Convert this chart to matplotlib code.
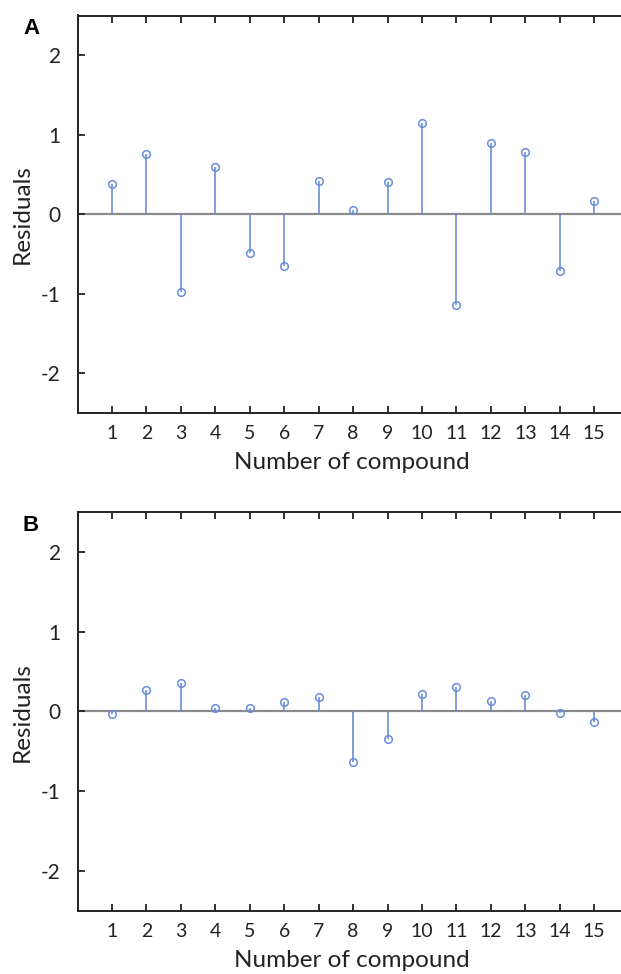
import matplotlib
matplotlib.use("Agg")
import matplotlib.pyplot as plt
import numpy as np

plt.rcParams['font.family'] = ['Lato', 'DejaVu Sans']

compounds = list(range(1, 16))
residuals_a = [0.38, 0.76, -0.98, 0.59, -0.49, -0.65, 0.42, 0.05, 0.40,
               1.15, -1.15, 0.89, 0.78, -0.71, 0.16]
residuals_b = [-0.03, 0.27, 0.36, 0.04, 0.05, 0.12, 0.18, -0.63, -0.35,
               0.22, 0.31, 0.13, 0.21, -0.02, -0.13]
y_ticks = [-2, -1, 0, 1, 2]
panel_labels = ['A', 'B']

W, H = 621, 974
fig = plt.figure(figsize=(W / 100, H / 100), dpi=100)

stem_color = '#6a8ddc'

def px_axes(left, top, width, height):
    return fig.add_axes([left / W, 1 - (top + height) / H, width / W, height / H])

panels = [
    (residuals_a, 15.5, 397.2, 214.3),
    (residuals_b, 512.3, 398.4, 711.0),
]

for (vals, top, height, zero_px), label in zip(panels, panel_labels):
    ax = px_axes(77.5, top, 551.2, height)
    ax.set_xlim(0, 16)
    ax.set_ylim(-2.5, 2.5)
    ax.axhline(0, color='#8a8a8a', lw=1.6, zorder=1)
    ax.vlines(compounds, 0, vals, color=stem_color, lw=1.2, zorder=2)
    ax.plot(compounds, vals, 'o', ms=5.5, mfc='none', mec=stem_color,
            mew=1.1, zorder=3)
    ax.spines['right'].set_visible(False)
    for s in ['left', 'top', 'bottom']:
        ax.spines[s].set_linewidth(1.4)
        ax.spines[s].set_color('#222222')
    ax.set_xticks(compounds)
    ax.set_xticklabels([str(c) for c in compounds])
    ax.set_yticks(y_ticks)
    ax.set_yticklabels([str(v) for v in y_ticks])
    ax.tick_params(axis='x', direction='in', length=5, width=1.3,
                   top=True, bottom=True, labelsize=14, pad=9,
                   colors='#222222', labelcolor='#222222')
    ax.tick_params(axis='y', direction='in', length=5, width=1.3,
                   left=True, right=False, labelsize=15, pad=12,
                   colors='#222222', labelcolor='#222222')
    ax.set_xlabel('Number of compound', fontsize=17.5, color='#222222')
    ax.xaxis.set_label_coords((352 - 77.5) / 551.2, -0.098)
    ax.set_ylabel('Residuals', fontsize=17.5, color='#222222')
    ax.yaxis.set_label_coords(-0.081, (zero_px - top) / height)
    fig.text(31 / W, 1 - (top + 13) / H, label, fontsize=16,
             fontweight='bold', family='Liberation Sans',
             ha='center', va='center')

fig.savefig('out.png', dpi=100)
